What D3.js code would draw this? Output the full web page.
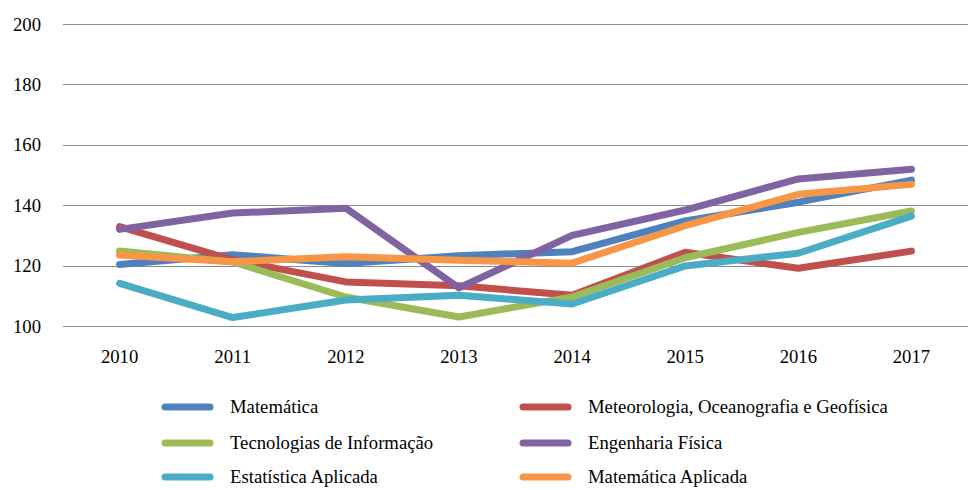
<!DOCTYPE html>
<html>
<head>
<meta charset="utf-8">
<script src="https://cdn.jsdelivr.net/npm/d3@7"></script>
<style>
  body { margin: 0; background: #fff; }
</style>
</head>
<body>
<svg id="chart"></svg>
<script>
const width = 968;
const height = 490;

const years = ['2010', '2011', '2012', '2013', '2014', '2015', '2016', '2017'];
const yTicks = [100, 120, 140, 160, 180, 200];

const seriesNames = [
    'Matemática',
    'Meteorologia, Oceanografia e Geofísica',
    'Tecnologias de Informação',
    'Engenharia Física',
    'Estatística Aplicada',
    'Matemática Aplicada'
];
const seriesColors = ['#4F81BD', '#C0504D', '#9BBB59', '#8064A2', '#4BACC6', '#F79646'];

const matematica   = [120.4, 123.6, 120.7, 123.3, 124.6, 134.8, 141.0, 148.3];
const meteorologia = [132.9, 121.9, 114.6, 113.3, 110.2, 124.4, 119.1, 124.8];
const tecnologias  = [124.8, 121.2, 109.6, 103.0, 109.6, 122.6, 131.0, 138.1];
const engenharia   = [132.0, 137.4, 139.0, 112.6, 130.0, 138.4, 148.7, 151.9];
const estatistica  = [114.1, 102.8, 108.6, 110.2, 107.3, 119.9, 124.1, 136.4];
const matAplicada  = [123.5, 121.3, 122.9, 121.8, 120.8, 133.2, 143.6, 146.9];

const seriesValues = [matematica, meteorologia, tecnologias, engenharia, estatistica, matAplicada];

const margin = { left: 63, right: 0, top: 24, bottom: 164 };
const fontSize = 18.7; // 14pt

const svg = d3.select('#chart')
    .attr('width', width)
    .attr('height', height);

const x = d3.scalePoint()
    .domain(years)
    .range([margin.left, width - margin.right])
    .padding(0.5);

const y = d3.scaleLinear()
    .domain([100, 200])
    .range([height - margin.bottom, margin.top]);

// gridlines
svg.append('g')
    .selectAll('line')
    .data(yTicks)
    .enter().append('line')
    .attr('x1', margin.left)
    .attr('x2', width - margin.right)
    .attr('y1', d => Math.round(y(d)) + 0.5)
    .attr('y2', d => Math.round(y(d)) + 0.5)
    .attr('stroke', '#8c8c8c')
    .attr('stroke-width', 1);

// y labels
svg.append('g')
    .selectAll('text')
    .data(yTicks)
    .enter().append('text')
    .attr('x', 41)
    .attr('y', d => y(d))
    .attr('dy', '0.35em')
    .attr('text-anchor', 'end')
    .attr('font-family', 'Liberation Serif')
    .attr('font-size', fontSize)
    .text(d => d);

// x labels
svg.append('g')
    .selectAll('text')
    .data(years)
    .enter().append('text')
    .attr('x', d => x(d))
    .attr('y', y(100) + 30)
    .attr('dy', '0.35em')
    .attr('text-anchor', 'middle')
    .attr('font-family', 'Liberation Serif')
    .attr('font-size', fontSize)
    .text(d => d);

const line = d3.line()
    .x((d, i) => x(years[i]))
    .y(d => y(d));

svg.append('g')
    .selectAll('path')
    .data(seriesValues)
    .enter().append('path')
    .attr('d', line)
    .attr('fill', 'none')
    .attr('stroke', (d, i) => seriesColors[i])
    .attr('stroke-width', 7)
    .attr('stroke-linecap', 'round')
    .attr('stroke-linejoin', 'round');

// legend, two columns
const legendCols = [165, 523];
const legendRows = [407, 443, 477];

const legendItems = svg.append('g')
    .selectAll('g')
    .data(seriesNames)
    .enter().append('g')
    .attr('transform', (d, i) => `translate(${legendCols[i % 2]}, ${legendRows[Math.floor(i / 2)]})`);

legendItems.append('line')
    .attr('x1', 0)
    .attr('x2', 45)
    .attr('stroke', (d, i) => seriesColors[i])
    .attr('stroke-width', 7)
    .attr('stroke-linecap', 'round');

legendItems.append('text')
    .attr('x', 65)
    .attr('dy', '0.33em')
    .attr('font-family', 'Liberation Serif')
    .attr('font-size', fontSize)
    .text(d => d);
</script>
</body>
</html>
